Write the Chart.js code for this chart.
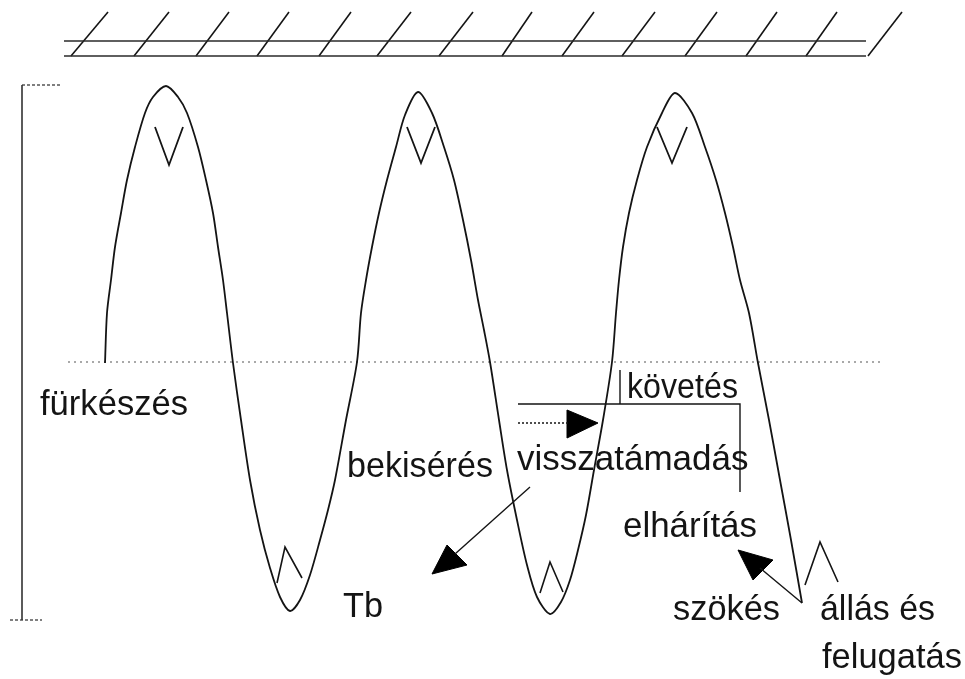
<!DOCTYPE html>
<html>
<head>
<meta charset="utf-8">
<script src="https://cdn.jsdelivr.net/npm/chart.js@4/dist/chart.umd.min.js"></script>
<style>
  html, body { margin: 0; padding: 0; background: #fff; }
  #wrap { width: 965px; height: 679px; }
</style>
</head>
<body>
<div id="wrap"><canvas id="diagram" width="965" height="679"></canvas></div>
<script>
// wave (x, y in picture units, y grows downward)
const waveX = [
  105, 107, 111, 115, 121, 127, 135, 145, 153, 166, 178, 187, 198, 206, 213, 218, 223, 227, 233,
  241, 250, 260, 270, 280, 290, 300, 310, 320, 328, 335, 346, 357,
  361, 366, 372, 379, 387, 396, 405, 418, 432, 444, 454, 463, 471, 478, 484, 490,
  499, 507, 517, 527, 537, 550, 561, 570, 578, 586, 594, 603, 612,
  616, 619, 623, 629, 637, 647, 662, 675, 692, 705, 716, 725, 733, 740, 749, 758,
  769, 780, 791, 802
];
const waveY = [
  363, 313, 280, 247, 213, 180, 147, 113, 97, 86, 97, 113, 147, 180, 213, 247, 280, 313, 363,
  420, 480, 530, 568, 597, 611, 600, 575, 540, 510, 480, 420, 362,
  313, 280, 247, 213, 180, 147, 115, 92, 113, 147, 180, 220, 260, 300, 330, 362,
  420, 470, 520, 565, 597, 614, 602, 580, 550, 515, 470, 420, 362,
  313, 280, 247, 213, 180, 147, 113, 93, 113, 147, 180, 213, 247, 280, 313, 363,
  420, 480, 540, 603
];

// hatched ceiling
const ceilingY = [41, 56];
const ceilingFrom = 64;
const ceilingTo = 866;
const hatchBottomX = [71, 134, 196, 257, 319, 377, 439, 502, 562, 622, 685, 746, 806, 868];
const hatchTopX = [108, 169, 229, 289, 351, 411, 473, 532, 594, 655, 717, 777, 837, 902];
const hatchTopY = 12;

// dotted base line and left bracket
const baseLine = [[68, 362], [880, 362]];
const bracket = [[22, 85], [22, 620]];
const bracketCaps = [[[22, 85], [62, 85]], [[10, 620], [42, 620]]];

// V marks at the crests, Λ marks in the troughs
const vMarks = [
  [[155, 127], [169, 165], [183, 127]],
  [[407, 127], [421, 163], [435, 127]],
  [[657, 127], [672, 163], [687, 127]]
];
const lambdaMarks = [
  [[277, 583], [285, 547], [302, 578]],
  [[540, 593], [550, 562], [563, 592]],
  [[805, 585], [820, 542], [838, 582]]
];

// connector lines and arrows
const solidLines = [
  [[518, 404], [740, 404], [740, 492]],
  [[620, 370], [620, 404]],
  [[530, 487], [455, 554]],
  [[802, 603], [760, 568]]
];
const dottedLines = [
  [[518, 423], [568, 423]]
];
const arrowHeads = [
  [[432, 574], [447, 545], [467, 565]],
  [[567, 410], [598, 423], [567, 438]],
  [[738, 550], [773, 560], [753, 580]]
];

// labels
const labelText = ['fürkészés', 'bekisérés', 'Tb', 'követés', 'visszatámadás', 'elhárítás', 'szökés', 'állás és', 'felugatás'];
const labelX = [40, 347, 343, 627, 517, 623, 673, 820, 822];
const labelY = [415, 477, 617, 398, 470, 537, 620, 620, 668];
const labelW = [148, 146, 40, 111, 233, 134, 107, 115, 140];

const ink = '#141414';
const pts = arr => arr.map(p => ({ x: p[0], y: p[1] }));

function lineSet(points, extra) {
  return Object.assign({
    data: pts(points),
    showLine: true,
    borderColor: ink,
    borderWidth: 1.6,
    pointRadius: 0,
    fill: false
  }, extra || {});
}

const datasets = [];

datasets.push(lineSet(waveX.map((x, i) => [x, waveY[i]]), {
  borderWidth: 1.8,
  tension: 0.3
}));

ceilingY.forEach(y => datasets.push(lineSet([[ceilingFrom, y], [ceilingTo, y]], { borderWidth: 1.4, borderColor: '#2a2a2a' })));
hatchBottomX.forEach((x, i) => datasets.push(lineSet([[x, ceilingY[1]], [hatchTopX[i], hatchTopY]], { borderWidth: 1.6 })));

datasets.push(lineSet(baseLine, { borderWidth: 1.2, borderColor: '#555', borderDash: [2, 4] }));
datasets.push(lineSet(bracket, { borderWidth: 1.6, borderColor: '#333' }));
bracketCaps.forEach(c => datasets.push(lineSet(c, { borderWidth: 1.4, borderColor: '#555', borderDash: [3, 2] })));

vMarks.forEach(m => datasets.push(lineSet(m, { borderWidth: 1.8 })));
lambdaMarks.forEach(m => datasets.push(lineSet(m, { borderWidth: 1.6 })));
solidLines.forEach(l => datasets.push(lineSet(l, { borderWidth: 1.4 })));
dottedLines.forEach(l => datasets.push(lineSet(l, { borderWidth: 1.4, borderDash: [2, 2] })));
arrowHeads.forEach(a => datasets.push(lineSet(a.concat([a[0]]), {
  borderWidth: 1,
  backgroundColor: '#000',
  borderColor: '#000',
  fill: 'shape'
})));

const labelPlugin = {
  id: 'labels',
  afterDatasetsDraw(chart) {
    const { ctx, scales } = chart;
    ctx.save();
    ctx.fillStyle = ink;
    ctx.font = '35px "Liberation Sans", Arial, sans-serif';
    ctx.textBaseline = 'alphabetic';
    labelText.forEach((t, i) => {
      const x = scales.x.getPixelForValue(labelX[i]);
      const y = scales.y.getPixelForValue(labelY[i]);
      ctx.fillText(t, x, y, labelW[i]);
    });
    ctx.restore();
  }
};

new Chart(document.getElementById('diagram'), {
  type: 'scatter',
  data: { datasets },
  options: {
    responsive: false,
    animation: false,
    layout: { padding: 0 },
    plugins: { legend: { display: false }, tooltip: { enabled: false } },
    scales: {
      x: { type: 'linear', min: 0, max: 965, display: false },
      y: { type: 'linear', min: 0, max: 679, reverse: true, display: false }
    }
  },
  plugins: [labelPlugin]
});
</script>
</body>
</html>
